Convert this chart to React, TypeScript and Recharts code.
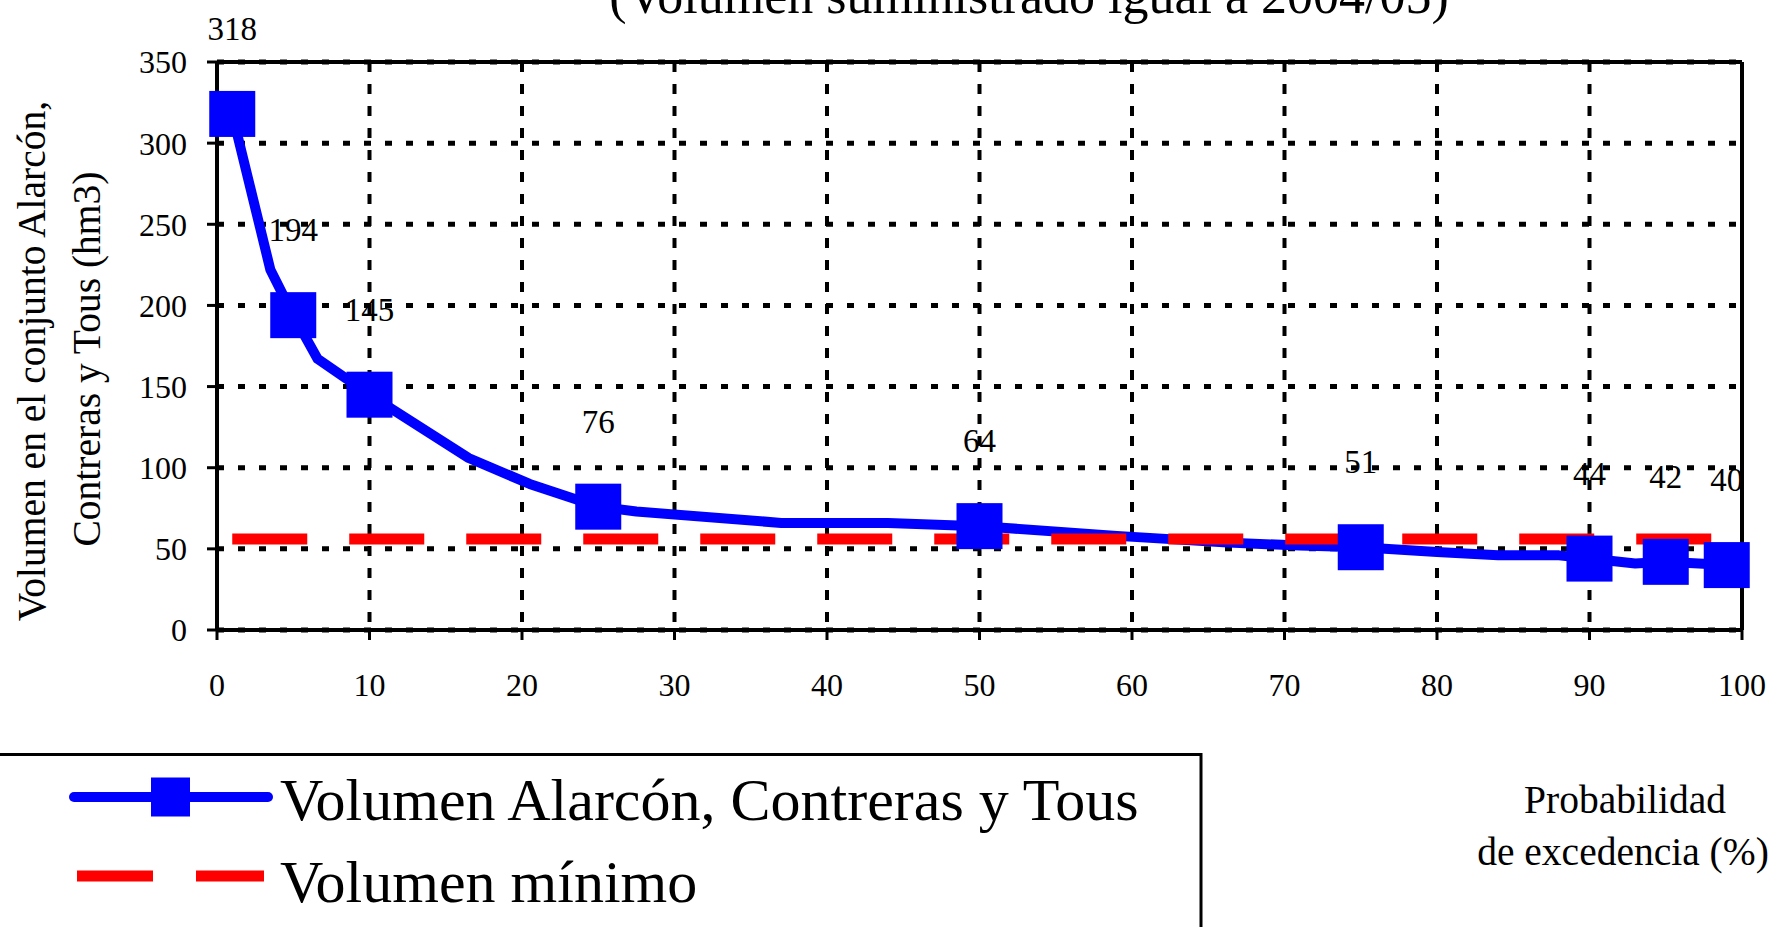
import React from "react"
import {
  LineChart,
  Line,
  XAxis,
  YAxis,
  CartesianGrid,
  ReferenceLine,
  Legend,
  LabelList
} from "recharts"

// probabilidad de excedencia (%) and volumen (hm3) along the curve
const probX = [1, 3.5, 5, 6.6, 10, 16.5, 20.5, 25, 27.5, 37, 44, 50, 59, 66, 71, 75, 80, 84, 88, 90, 93, 95, 99]
const volumen = [318, 222, 194, 167, 145, 106, 90, 76, 73, 66, 66, 64, 58, 54, 52, 51, 48, 46, 46, 44, 41, 42, 40]

// points drawn with a marker and a value label
const markerX = [1, 5, 10, 25, 50, 75, 90, 95, 99]
const markerY = [318, 194, 145, 76, 64, 51, 44, 42, 40]

// volumen mínimo
const minimoX = [1, 99]
const minimoY = [56, 56]

const xTicks = [0, 10, 20, 30, 40, 50, 60, 70, 80, 90, 100]
const yTicks = [0, 50, 100, 150, 200, 250, 300, 350]

const SERIE_VOL = "Volumen Alarcón, Contreras y Tous"
const SERIE_MIN = "Volumen mínimo"
const FONT = "Liberation Serif"

const curveData = probX.map((x, i) => ({ x, v: volumen[i] }))
const markerData = markerX.map((x, i) => ({ x, v: markerY[i] }))
const minimoData = minimoX.map((x, i) => ({ x, v: minimoY[i] }))

const SquareDot = (props: any) => {
  const { cx, cy, index } = props
  if (cx == null || cy == null) return <g key={`d-${index}`} />
  return <rect key={`d-${index}`} x={cx - 23} y={cy - 23} width={46} height={46} fill="#0000ff" />
}

const ValueLabel = (props: any) => {
  const { x, y, value, index } = props
  return (
    <text
      key={`l-${index}`}
      x={x}
      y={y - 85}
      textAnchor="middle"
      dominantBaseline="central"
      fontFamily={FONT}
      fontSize={33}
      fill="#000"
    >
      {value}
    </text>
  )
}

const YTitle = () => (
  <g fontFamily={FONT} fontSize={39.5} fill="#000">
    <text x={32} y={361} textAnchor="middle" dominantBaseline="central" transform="rotate(-90 32 361)">
      Volumen en el conjunto Alarcón,
    </text>
    <text x={87} y={359} textAnchor="middle" dominantBaseline="central" transform="rotate(-90 87 359)">
      Contreras y Tous (hm3)
    </text>
  </g>
)

const XTitle = () => (
  <g fontFamily={FONT} fontSize={39.5} fill="#000" textAnchor="middle">
    <text x={1625} y={813}>Probabilidad</text>
    <text x={1623} y={865}>de excedencia (%)</text>
  </g>
)

const LegendBox = (props: any) => {
  const items = (props.payload || []).filter((p: any) => p.value === SERIE_VOL || p.value === SERIE_MIN)
  return (
    <svg width={1205} height={174} style={{ display: "block" }}>
      <rect x={-5} y={1.5} width={1206} height={200} fill="#fff" stroke="#000" strokeWidth={3} />
      {items.map((it: any, i: number) => {
        const cy = i === 0 ? 44 : 123
        const base = i === 0 ? 67 : 149
        return (
          <g key={it.value}>
            {it.value === SERIE_VOL ? (
              <g>
                <line x1={74} x2={268} y1={cy} y2={cy} stroke="#0000ff" strokeWidth={10} strokeLinecap="round" />
                <rect x={151} y={cy - 19.5} width={39} height={39} fill="#0000ff" />
              </g>
            ) : (
              <g>
                <line x1={77} x2={153} y1={cy} y2={cy} stroke="#ff0000" strokeWidth={11} />
                <line x1={196} x2={264} y1={cy} y2={cy} stroke="#ff0000" strokeWidth={11} />
              </g>
            )}
            <text x={280} y={base} fontFamily={FONT} fontSize={60} fill="#000">
              {it.value}
            </text>
          </g>
        )
      })}
    </svg>
  )
}

export default function App() {
  const tickStyle = { fontSize: 32, fill: "#000", fontFamily: FONT }
  return (
    <div style={{ position: "absolute", left: 0, top: 0, width: 1776, height: 927, overflow: "hidden", background: "#fff" }}>
      <LineChart width={1776} height={927} margin={{ top: 62, right: 34, bottom: 267, left: 117 }}>
        <CartesianGrid vertical={false} stroke="#000" strokeWidth={5} strokeDasharray="7 14" />
        <CartesianGrid horizontal={false} stroke="#000" strokeWidth={4} strokeDasharray="10 12" />
        <XAxis
          type="number"
          dataKey="x"
          domain={[0, 100]}
          ticks={xTicks}
          interval={0}
          height={30}
          axisLine={{ stroke: "#000", strokeWidth: 4 }}
          tickLine={{ stroke: "#000", strokeWidth: 3 }}
          tickSize={10}
          tickMargin={33}
          tick={tickStyle}
        />
        <YAxis
          type="number"
          domain={[0, 350]}
          ticks={yTicks}
          interval={0}
          width={100}
          axisLine={{ stroke: "#000", strokeWidth: 4 }}
          tickLine={{ stroke: "#000", strokeWidth: 3 }}
          tickSize={10}
          tickMargin={20}
          tick={tickStyle}
        />
        <ReferenceLine y={350} stroke="#000" strokeWidth={4} />
        <ReferenceLine x={100} stroke="#000" strokeWidth={4} />
        <Line
          data={curveData}
          dataKey="v"
          name={SERIE_VOL}
          type="linear"
          stroke="#0000ff"
          strokeWidth={10}
          strokeLinejoin="round"
          dot={false}
          activeDot={false}
          isAnimationActive={false}
        />
        <Line
          data={minimoData}
          dataKey="v"
          name={SERIE_MIN}
          type="linear"
          stroke="#ff0000"
          strokeWidth={11}
          strokeDasharray="75 42"
          dot={false}
          activeDot={false}
          isAnimationActive={false}
        />
        <Line
          data={markerData}
          dataKey="v"
          name="marcadores"
          legendType="none"
          stroke="none"
          dot={SquareDot}
          activeDot={false}
          isAnimationActive={false}
        >
          <LabelList dataKey="v" content={ValueLabel} />
        </Line>
        <Legend
          layout="horizontal"
          verticalAlign="middle"
          align="center"
          content={LegendBox}
          wrapperStyle={{ position: "absolute", left: 0, top: 753, width: 1205, height: 174 }}
        />
        <text x={1029} y={13} textAnchor="middle" fontFamily={FONT} fontSize={52} fill="#000">
          (Volumen suministrado igual a 2004/05)
        </text>
        <YTitle />
        <XTitle />
      </LineChart>
    </div>
  )
}
